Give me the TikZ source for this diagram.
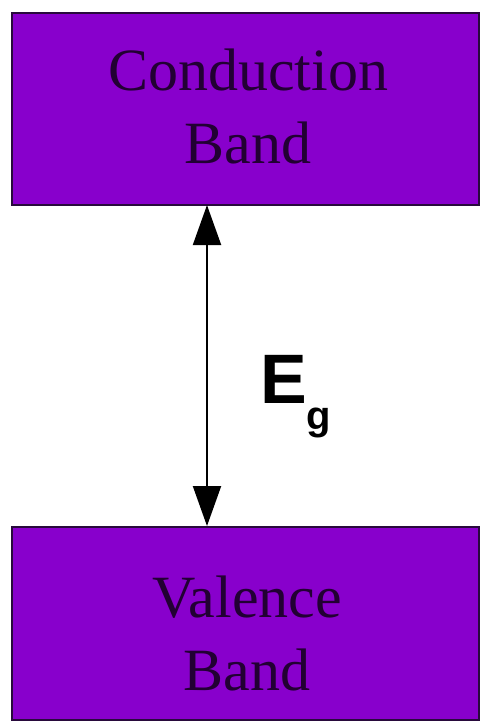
\documentclass[tikz,border=0pt]{standalone}
\usepackage{fontspec}
\setmainfont{Liberation Serif}
\newfontfamily\egfont{Liberation Sans}
\usetikzlibrary{arrows.meta}
\definecolor{bandfill}{RGB}{136,0,204}
\definecolor{banddraw}{RGB}{40,10,60}
\definecolor{bandtext}{RGB}{34,0,51}
\tikzset{
  bandbox/.style={draw=banddraw, line width=2pt, fill=bandfill},
  bandlabel/.style={inner sep=0pt, align=center, text=bandtext,
    font=\fontsize{60}{73}\selectfont},
  gaparrow/.style={line width=2pt, {Triangle[length=40pt,width=28pt]}-{Triangle[length=40pt,width=28pt]}}
}
\begin{document}
\begin{tikzpicture}[x=1pt,y=-1pt]
\useasboundingbox (0,0) rectangle (481,721);
\fill[white] (0,0) rectangle (481,721);
\draw[bandbox] (12,13) rectangle (479,205);
\draw[bandbox] (12,527) rectangle (479,720);
\coordinate (cbbot) at (207,205);
\coordinate (vbtop) at (207,526);
\node[bandlabel] (ctext) at (248,106.5) {Conduction\\Band};
\node[bandlabel] (vtext) at (247,633.5) {Valence\\Band};
\draw[gaparrow] (cbbot) -- (vbtop);
\node[anchor=base west, inner sep=0pt, font=\egfont\bfseries] (eg) at (260,403)
  {\fontsize{70}{70}\selectfont E\raisebox{-26pt}{\fontsize{40}{40}\selectfont g}};
\end{tikzpicture}
\end{document}
